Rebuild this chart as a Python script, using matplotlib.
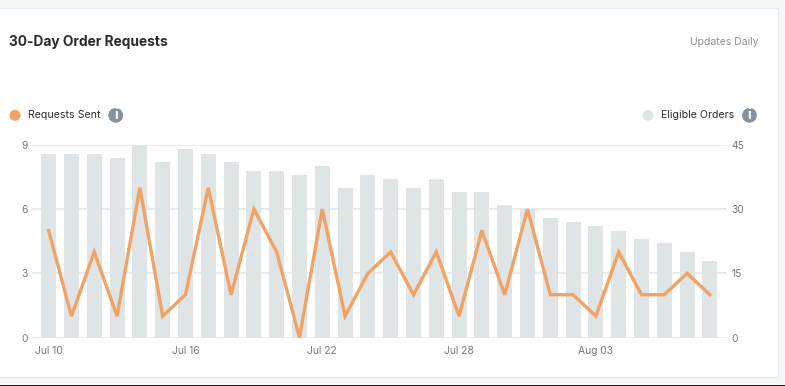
import matplotlib
matplotlib.use("Agg")
import matplotlib.pyplot as plt
from matplotlib.patches import Rectangle, Circle

plt.rcParams['font.family'] = ['Inter', 'DejaVu Sans']

requests_sent = [5, 1, 4, 1, 7, 1, 2, 7, 2, 6, 4, 0, 6, 1, 3, 4, 2, 4, 1, 5, 2, 6, 2, 2, 1, 4, 2, 2, 3, 2]
eligible_orders = [43, 43, 43, 42, 45, 41, 44, 43, 41, 39, 39, 38, 40, 35, 38, 37, 35, 37, 34, 34,
                   31, 30, 28, 27, 26, 25, 23, 22, 20, 18]
day_index = list(range(30))
tick_positions = [0, 6, 12, 18, 24]
tick_labels = ['Jul 10', 'Jul 16', 'Jul 22', 'Jul 28', 'Aug 03']
left_ticks = [0, 3, 6, 9]
right_ticks = [0, 15, 30, 45]

W, H = 785, 386
ORANGE = '#f2a263'
BAR = '#dfe4e6'
GRID = '#e6eaed'
fig = plt.figure(figsize=(W / 100, H / 100), dpi=100, facecolor='#f5f6f8')

# Chrome layer in pixel coordinates
bg = fig.add_axes([0, 0, 1, 1], zorder=0)
bg.set_xlim(0, W)
bg.set_ylim(H, 0)
bg.axis('off')
bg.add_patch(Rectangle((-3, 8), 780.5, 368.5, facecolor='white', edgecolor='#e6e9ec', lw=0.8))
bg.add_patch(Rectangle((0, 384.6), W, 2, facecolor='#1a1a1a', edgecolor='none'))
bg.text(9, 42.3, '30-Day Order Requests', fontsize=9.9, fontweight='bold', color='#2b2b2b', va='center')
bg.text(759, 42, 'Updates Daily', fontsize=7.5, color='#8b8f93', va='center', ha='right')

def legend(cx, text, color, tx, ix):
    bg.add_patch(Circle((cx, 115.3), 5.5, facecolor=color, edgecolor='none'))
    bg.text(tx, 115.3, text, fontsize=7.6, color='#2b2b2b', va='center')
    bg.add_patch(Circle((ix, 115.3), 7.4, facecolor='#84939f', edgecolor='none'))
    bg.text(ix, 115.3, 'i', fontsize=10, fontweight='bold', color='white', va='center', ha='center')

legend(15, 'Requests Sent', ORANGE, 28, 115.7)
legend(648, 'Eligible Orders', BAR, 661, 749.5)

# Plot area
x0, x1, ytop, ybot = 32, 727, 145, 337.5
rect = [x0 / W, 1 - ybot / H, (x1 - x0) / W, (ybot - ytop) / H]
ax_r = fig.add_axes(rect, zorder=1)
ax_r.patch.set_alpha(0)
ax_l = ax_r.twinx()
ax_l.set_zorder(2)
ax_l.patch.set_alpha(0)

ax_r.set_axisbelow(True)
ax_r.yaxis.grid(True, color=GRID, lw=1.3)
ax_r.xaxis.grid(False)
ax_r.bar(day_index, eligible_orders, width=0.66, color=BAR, linewidth=0)
ax_r.set_ylim(0, 45)
ax_r.yaxis.tick_right()
ax_r.set_yticks(right_ticks)

ax_l.plot(day_index, requests_sent, color=ORANGE, lw=2.4, solid_joinstyle='miter', clip_on=False)
ax_l.set_ylim(0, 9)
ax_l.yaxis.tick_left()
ax_l.set_yticks(left_ticks)

for a in (ax_l, ax_r):
    a.set_xlim(-0.73, 29.75)
    for s in a.spines.values():
        s.set_visible(False)
    a.tick_params(axis='y', length=0, labelsize=7.4, labelcolor='#75797d', pad=3)
ax_r.set_xticks(tick_positions)
ax_r.set_xticklabels(tick_labels)
ax_r.tick_params(axis='x', length=0, labelsize=7.4, labelcolor='#75797d', pad=6)

fig.savefig('out.png', dpi=100, facecolor=fig.get_facecolor())
